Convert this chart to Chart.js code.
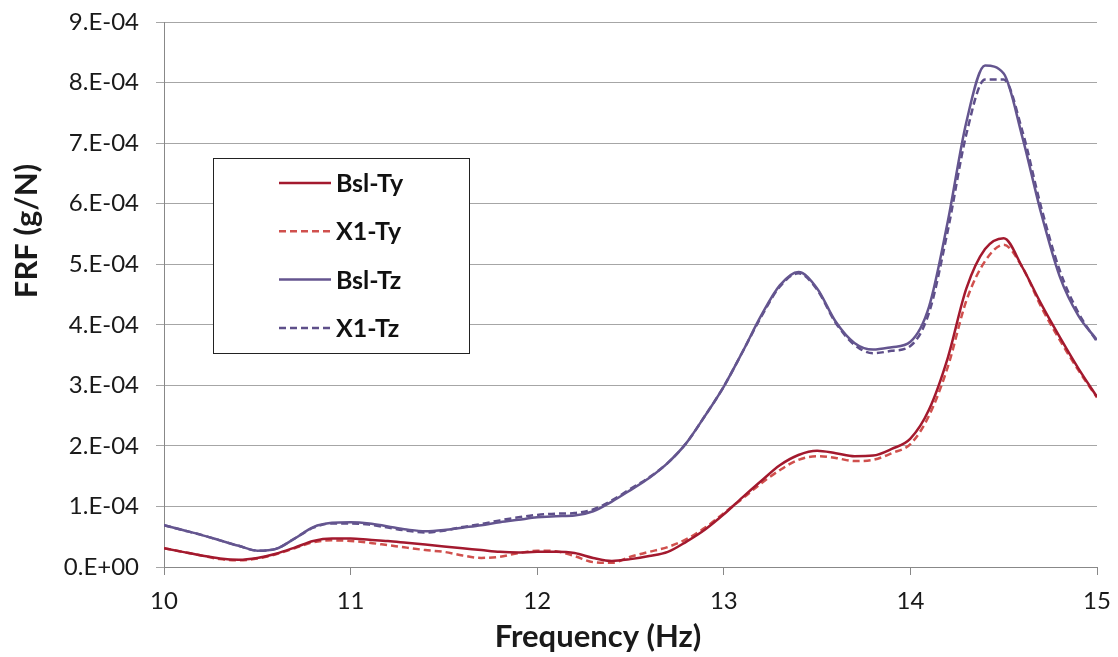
<!DOCTYPE html>
<html>
<head>
<meta charset="utf-8">
<script src="https://cdn.jsdelivr.net/npm/chart.js@4.4.0/dist/chart.umd.min.js"></script>
<style>
    html, body { margin: 0; padding: 0; background: #fff; }
    #wrap { width: 1118px; height: 657px; }
</style>
</head>
<body>
<div id="wrap"><canvas id="chart-frf"></canvas></div>
<script>
// Frequency (Hz), 0.1 Hz steps
const freq = [
    10.0, 10.1, 10.2, 10.3, 10.4, 10.5, 10.6, 10.7, 10.8, 10.9,
    11.0, 11.1, 11.2, 11.3, 11.4, 11.5, 11.6, 11.7, 11.8, 11.9,
    12.0, 12.1, 12.2, 12.3, 12.4, 12.5, 12.6, 12.7, 12.8, 12.9,
    13.0, 13.1, 13.2, 13.3, 13.4, 13.5, 13.6, 13.7, 13.8, 13.9,
    14.0, 14.1, 14.2, 14.3, 14.4, 14.5, 14.6, 14.7, 14.8, 14.9, 15.0,
];

// FRF values in units of 1e-4 g/N
const bslTy = [
    0.31, 0.25, 0.19, 0.14, 0.12, 0.15, 0.22, 0.32, 0.43, 0.47,
    0.47, 0.45, 0.43, 0.40, 0.37, 0.34, 0.31, 0.28, 0.25, 0.24,
    0.25, 0.25, 0.23, 0.15, 0.10, 0.13, 0.18, 0.25, 0.42, 0.62,
    0.87, 1.15, 1.42, 1.68, 1.85, 1.92, 1.88, 1.83, 1.84, 1.95,
    2.12, 2.60, 3.45, 4.60, 5.25, 5.43, 4.95, 4.35, 3.80, 3.28, 2.81,
];
const x1Ty = [
    0.31, 0.25, 0.19, 0.13, 0.11, 0.14, 0.21, 0.31, 0.41, 0.44,
    0.43, 0.40, 0.36, 0.32, 0.28, 0.25, 0.19, 0.15, 0.17, 0.23,
    0.27, 0.26, 0.18, 0.08, 0.07, 0.17, 0.25, 0.33, 0.46, 0.65,
    0.89, 1.13, 1.38, 1.60, 1.77, 1.83, 1.80, 1.75, 1.77, 1.88,
    2.03, 2.50, 3.30, 4.40, 5.05, 5.32, 4.95, 4.30, 3.75, 3.25, 2.80,
];
const bslTz = [
    0.69, 0.61, 0.53, 0.44, 0.35, 0.27, 0.30, 0.47, 0.66, 0.73,
    0.74, 0.72, 0.67, 0.62, 0.59, 0.61, 0.65, 0.69, 0.74, 0.78,
    0.82, 0.84, 0.85, 0.92, 1.08, 1.27, 1.47, 1.72, 2.05, 2.50,
    2.98, 3.55, 4.15, 4.65, 4.87, 4.60, 4.05, 3.70, 3.59, 3.63,
    3.72, 4.30, 5.70, 7.35, 8.28, 8.15, 7.10, 5.85, 4.80, 4.15, 3.75,
];
const x1Tz = [
    0.69, 0.61, 0.53, 0.44, 0.35, 0.27, 0.30, 0.47, 0.65, 0.72,
    0.72, 0.70, 0.65, 0.60, 0.57, 0.60, 0.66, 0.71, 0.77, 0.82,
    0.86, 0.88, 0.89, 0.95, 1.10, 1.29, 1.48, 1.72, 2.05, 2.50,
    2.98, 3.55, 4.13, 4.63, 4.85, 4.58, 4.03, 3.67, 3.53, 3.57,
    3.65, 4.20, 5.55, 7.15, 8.05, 8.05, 7.20, 5.95, 4.90, 4.20, 3.72,
];

const seriesNames = ['Bsl-Ty', 'X1-Ty', 'Bsl-Tz', 'X1-Tz'];
const seriesValues = [bslTy, x1Ty, bslTz, x1Tz];
const seriesColors = ['#a3192e', '#d0504d', '#64558f', '#5e4f8a'];
const seriesDash = [[], [7, 4], [], [7, 4]];

const xTickLabels = ['10', '11', '12', '13', '14', '15'];
const yTickLabels = ['0.E+00', '1.E-04', '2.E-04', '3.E-04', '4.E-04', '5.E-04', '6.E-04', '7.E-04', '8.E-04', '9.E-04'];
const xTitle = 'Frequency (Hz)';
const yTitle = 'FRF (g/N)';

const FONT = 'Lato, "Open Sans", "DejaVu Sans", sans-serif';
Chart.defaults.font.family = FONT;
Chart.defaults.color = '#1a1a1a';

const datasets = seriesNames.map((name, i) => ({
    label: name,
    data: freq.map((f, k) => ({ x: f, y: seriesValues[i][k] * 1e-4 })),
    borderColor: seriesColors[i],
    borderDash: seriesDash[i],
    borderWidth: 2.5,
    pointRadius: 0,
    fill: false,
    cubicInterpolationMode: 'monotone',
}));

// axis titles sit off-centre in the original, so draw them by hand
const axisTitles = {
    id: 'axisTitles',
    afterDraw(chart) {
        const ctx = chart.ctx;
        ctx.save();
        ctx.fillStyle = '#1a1a1a';
        ctx.font = 'bold 31px ' + FONT;
        ctx.textAlign = 'center';
        ctx.textBaseline = 'alphabetic';
        ctx.fillText(xTitle, 598, 647);
        ctx.translate(37, 231);
        ctx.rotate(-Math.PI / 2);
        ctx.fillText(yTitle, 0, 0);
        ctx.restore();
    },
};

// legend box drawn inside the plot, like the original
const boxLegend = {
    id: 'boxLegend',
    afterDraw(chart) {
        const ctx = chart.ctx;
        const left = 213, top = 158, w = 256, h = 195;
        ctx.save();
        ctx.fillStyle = '#fff';
        ctx.fillRect(left, top, w, h);
        ctx.strokeStyle = '#222';
        ctx.lineWidth = 1;
        ctx.strokeRect(left + 0.5, top + 0.5, w, h);
        ctx.font = 'bold 25px ' + FONT;
        ctx.textBaseline = 'middle';
        chart.data.datasets.forEach((ds, i) => {
            const y = 183 + i * 48.3;
            ctx.strokeStyle = ds.borderColor;
            ctx.lineWidth = 2.5;
            ctx.setLineDash(ds.borderDash);
            ctx.beginPath();
            ctx.moveTo(279, y);
            ctx.lineTo(331, y);
            ctx.stroke();
            ctx.setLineDash([]);
            ctx.fillStyle = '#111';
            ctx.fillText(ds.label, 336, y + 1);
        });
        ctx.restore();
    },
};

new Chart(document.getElementById('chart-frf'), {
    type: 'line',
    data: { datasets },
    plugins: [boxLegend, axisTitles],
    options: {
        responsive: true,
        maintainAspectRatio: false,
        animation: false,
        layout: { padding: { top: 22, right: 21, left: 0, bottom: 0 } },
        plugins: { legend: { display: false }, tooltip: { enabled: false } },
        scales: {
            x: {
                type: 'linear',
                min: 10,
                max: 15,
                ticks: {
                    stepSize: 1,
                    font: { size: 24 },
                    padding: 12,
                    callback: (v) => xTickLabels[Math.round(v - 10)],
                },
                grid: { display: true, drawOnChartArea: false, tickLength: 8, color: '#888' },
                border: { display: true, color: '#888', width: 1 },
                afterFit: (s) => {
                    s.height = 90;
                    s.paddingLeft = 0;
                    s.paddingRight = 0;
                },
            },
            y: {
                min: 0,
                max: 9e-4,
                ticks: {
                    stepSize: 1e-4,
                    font: { size: 24 },
                    padding: 17,
                    callback: (v) => yTickLabels[Math.round(v * 1e4)],
                },
                grid: { color: '#a6a6a6', tickLength: 8, lineWidth: 1 },
                border: { display: true, color: '#888', width: 1 },
                afterFit: (s) => {
                    s.width = 164;
                    s.paddingTop = 0;
                    s.paddingBottom = 0;
                },
            },
        },
    },
});
</script>
</body>
</html>
